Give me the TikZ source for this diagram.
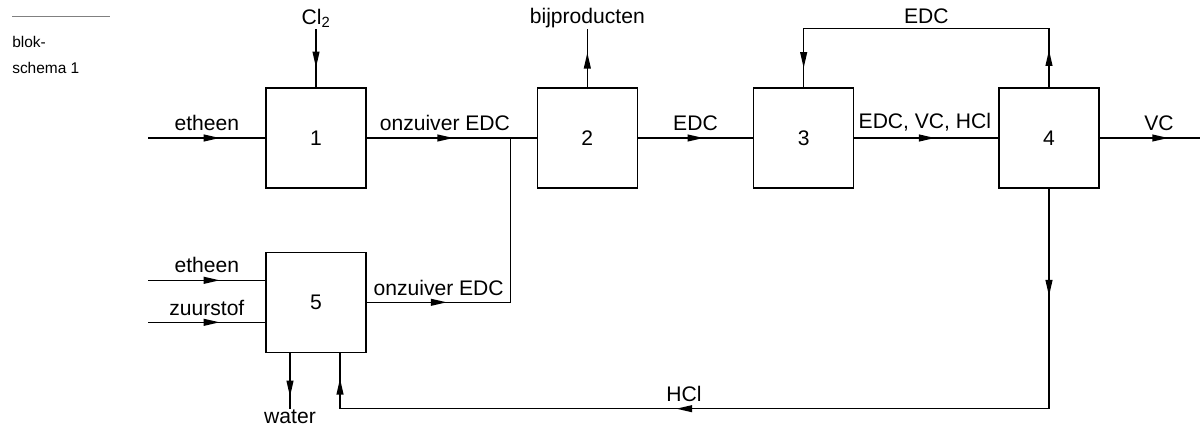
\documentclass[tikz,border=0pt]{standalone}
\usepackage{fontspec}
\setmainfont{Liberation Sans}
\usetikzlibrary{arrows.meta,positioning,decorations.markings}
\newcommand\flowtip{\arrow{Triangle[length=4mm,width=1.7mm]}}

\begin{document}
\begin{tikzpicture}[
    x=0.025cm, y=-0.025cm,
    font=\fontsize{15}{17}\selectfont,
    unit/.style={draw=black, line width=0.9pt, minimum width=2.5cm,
        minimum height=2.5cm, inner sep=0pt},
    lbl/.style={inner sep=1.5pt},
    stream/.style={line width=1.1pt, draw=black},
    tip/.style={postaction={decorate, decoration={markings,
        mark=at position #1 with {\flowtip}}}},
    note/.style={anchor=base west, inner sep=0pt, font=\fontsize{11}{13}\selectfont}
]
\useasboundingbox (0,0) rectangle (1200,426);

\node[unit] (r1) at (316,138) {1};
\node[unit, right=4.25cm of r1] (r2) {2};
\node[unit, right=2.875cm of r2] (r3) {3};
\node[unit, right=3.6cm of r3] (r4) {4};
\node[unit, below=1.575cm of r1] (r5) {5};

\coordinate[left=2.925cm of r1.west] (feed1);
\coordinate[above=1.45cm of r1.north] (cl);
\coordinate[right=3.6cm of r1.east] (mix);
\coordinate[above=1.45cm of r2.north] (bp);
\coordinate[above=1.475cm of r4.north] (rtop);
\coordinate[right=2.6cm of r4.east] (vcout);
\coordinate[below=5.5cm of r4.south] (hcorner);
\coordinate (in5a) at ([yshift=0.55cm]r5.west);
\coordinate (in5b) at ([yshift=-0.5cm]r5.west);
\coordinate[left=2.925cm of in5a] (feed5a);
\coordinate[left=2.925cm of in5b] (feed5b);
\coordinate (w5) at ([xshift=-0.65cm]r5.south);
\coordinate[below=1.4cm of w5] (wout);
\coordinate (h5) at ([xshift=0.6cm]r5.south);

\draw[gray, line width=0.6pt] (12,16) coordinate (ruleL) -- (110,16) coordinate (ruleR);
\node[note] (blok) at (12,48) {blok-};
\node[note] (schema) at (12,74) {schema 1};

\draw[stream, tip=0.61] (feed1) -- node[lbl, above=3pt] {etheen} (r1.west);
\draw[stream, tip=0.66] (cl) node[inner sep=0.5pt, above] {Cl\textsubscript{2}} -- (r1.north);
\draw[stream, tip=0.51] (r1.east) -- node[lbl, above=3pt, pos=0.46] {onzuiver EDC} (r2.west);
\draw[stream, tip=0.6] (r2.north) -- (bp) node[inner sep=0.5pt, above] {bijproducten};
\draw[stream, tip=0.57] (r2.east) -- node[lbl, above=3pt] {EDC} (r3.west);
\draw[stream, tip=0.56] (r3.east) -- node[lbl, above=3pt, pos=0.49] {EDC, VC, HCl} (r4.west);
\draw[stream, tip=0.66] (r4.east) -- node[lbl, above=3pt, pos=0.57] {VC} (vcout);
\draw[stream, tip=0.103, tip=0.947] (r4.north) -- (rtop)
    -- node[lbl, above=1pt] {EDC} (rtop -| r3.north) -- (r3.north);
\draw[stream, tip=0.109, tip=0.602, tip=0.974] (r4.south) -- (hcorner)
    -- node[lbl, above=3pt, pos=0.515] {HCl} (hcorner -| h5) -- (h5);
\draw[stream, tip=0.61] (feed5a) -- node[lbl, above=3pt] {etheen} (in5a);
\draw[stream, tip=0.61] (feed5b) -- node[lbl, above=3pt] {zuurstof} (in5b);
\draw[stream, tip=0.26] (r5.east) -- node[lbl, above=3pt] {onzuiver EDC} (r5.east -| mix) -- (mix);
\draw[stream, tip=0.78] (w5) -- (wout) node[inner sep=0pt, anchor=north] {water};
\end{tikzpicture}
\end{document}
